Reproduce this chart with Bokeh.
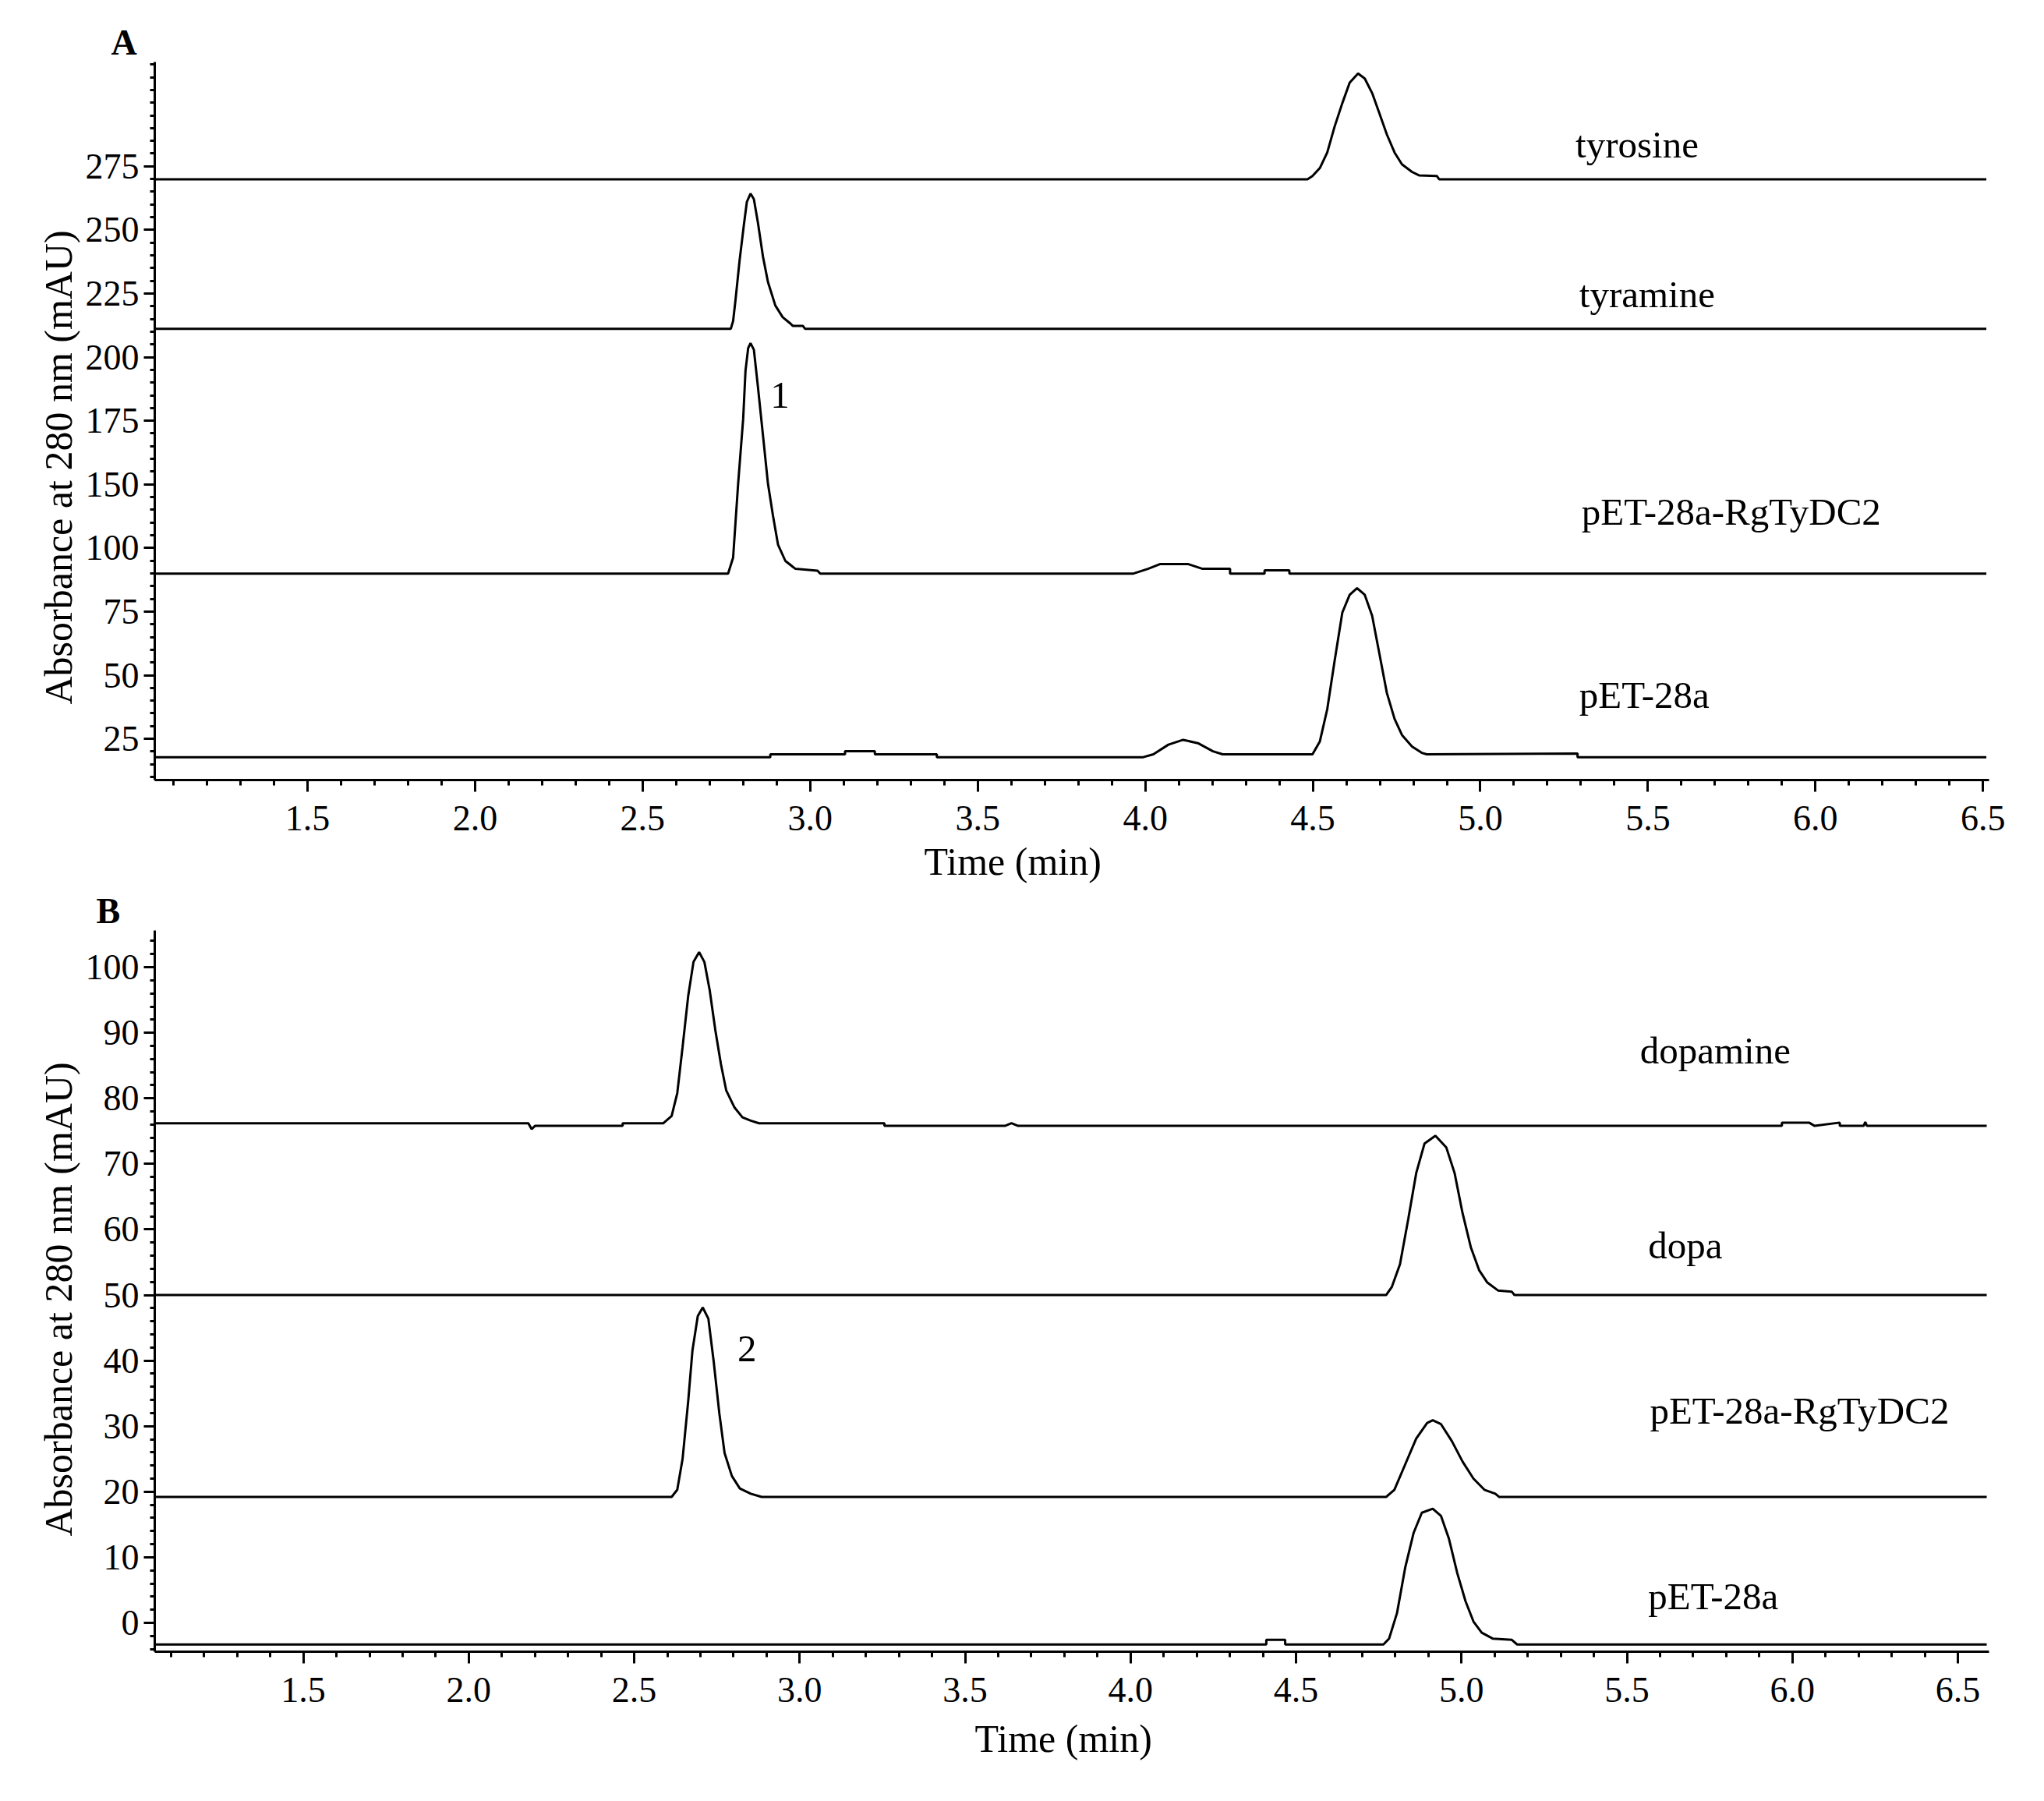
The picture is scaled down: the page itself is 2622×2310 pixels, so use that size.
from bokeh.plotting import figure
from bokeh.layouts import column
from bokeh.models import ColumnDataSource, FixedTicker, Title
from bokeh.core.properties import value
from bokeh.embed import file_html
from bokeh.resources import INLINE

FONT = "Liberation Serif"

# ---------------------------------------------------------------------------
# Panel A: tyrosine / tyramine chromatograms (time in min, offset mAU)
# ---------------------------------------------------------------------------
TYROSINE_T = [1.044, 4.484, 4.499, 4.521, 4.543, 4.565, 4.588, 4.610, 4.635, 4.655,
              4.677, 4.699, 4.721, 4.744, 4.766, 4.796, 4.818, 4.870, 4.877, 6.51]
TYROSINE_V = [244.9, 244.9, 246.2, 249.3, 255.4, 265.6, 274.8, 282.9, 286.5, 284.5,
              278.8, 270.7, 262.5, 255.4, 250.8, 247.8, 246.4, 246.2, 244.9, 244.9]

TYRAMINE_T = [1.044, 2.763, 2.770, 2.777, 2.789, 2.803, 2.811, 2.822, 2.832, 2.844,
              2.859, 2.874, 2.896, 2.918, 2.941, 2.948, 2.978, 2.985, 6.51]
TYRAMINE_V = [186.1, 186.1, 189.2, 197.3, 212.6, 227.9, 236.0, 239.3, 237.1, 227.9,
              214.6, 204.5, 195.3, 190.7, 188.2, 187.3, 187.3, 186.1, 186.1]

RGTYDC2_A_T = [1.044, 2.755, 2.770, 2.785, 2.800, 2.807, 2.815, 2.822, 2.832, 2.844,
               2.859, 2.874, 2.889, 2.904, 2.926, 2.956, 3.022, 3.030, 3.963, 4.008,
               4.045, 4.127, 4.171, 4.253, 4.253, 4.356, 4.356, 4.430, 4.430, 6.51]
RGTYDC2_A_V = [89.9, 89.9, 96.2, 125.3, 150.7, 169.7, 178.6, 180.5, 177.9, 163.4,
               144.4, 125.3, 112.7, 101.3, 94.9, 91.8, 91.1, 89.9, 89.9, 91.8,
               93.7, 93.7, 91.8, 91.8, 89.9, 89.9, 91.2, 91.2, 89.9, 89.9]

PET28A_A_T = [1.044, 2.881, 2.881, 3.104, 3.104, 3.193, 3.193, 3.378, 3.378, 3.994,
              4.024, 4.069, 4.113, 4.157, 4.202, 4.231, 4.499, 4.521, 4.543, 4.565,
              4.588, 4.610, 4.632, 4.655, 4.677, 4.699, 4.721, 4.744, 4.766, 4.796,
              4.825, 4.840, 5.29, 5.29, 6.51]
PET28A_A_V = [17.8, 17.8, 18.9, 18.9, 20.1, 20.1, 18.9, 18.9, 17.8, 17.8,
              18.9, 22.7, 24.6, 23.3, 20.1, 18.9, 18.9, 24.0, 36.6, 55.6,
              74.6, 81.6, 84.2, 81.6, 73.4, 58.2, 43.0, 32.8, 26.5, 22.0,
              19.5, 18.9, 19.2, 17.8, 17.8]

NAMES_A = ["tyrosine", "tyramine", "pET-28a-RgTyDC2", "pET-28a"]
NAME_T_A = [5.284, 5.295, 5.302, 5.295]
NAME_V_A = [258.6, 199.6, 114.3, 42.1]

Y_TICKS_A = [25, 50, 75, 100, 125, 150, 175, 200, 225, 250]
Y_TICK_LABELS_A = ["25", "50", "75", "100", "150", "175", "200", "225", "250", "275"]

# ---------------------------------------------------------------------------
# Panel B: dopa / dopamine chromatograms
# ---------------------------------------------------------------------------
DOPAMINE_T = [1.051, 2.18, 2.19, 2.20, 2.465, 2.465, 2.588, 2.613, 2.630, 2.646,
              2.663, 2.679, 2.696, 2.712, 2.728, 2.745, 2.762, 2.778, 2.803, 2.827,
              2.852, 2.877, 3.256, 3.256, 3.62, 3.64, 3.66, 5.968, 5.968, 6.05,
              6.067, 6.143, 6.143, 6.215, 6.22, 6.225, 6.587]
DOPAMINE_V = [76.2, 76.2, 75.3, 75.8, 75.8, 76.2, 76.2, 77.3, 80.8, 87.8,
              95.6, 100.8, 102.3, 100.8, 96.5, 90.4, 85.2, 81.2, 78.6, 77.1,
              76.6, 76.2, 76.2, 75.8, 75.8, 76.2, 75.8, 75.8, 76.3, 76.3,
              75.8, 76.3, 75.8, 75.8, 76.4, 75.8, 75.8]

DOPA_T = [1.051, 4.772, 4.789, 4.814, 4.839, 4.863, 4.888, 4.921, 4.954, 4.979,
          5.003, 5.028, 5.053, 5.078, 5.110, 5.152, 5.160, 6.587]
DOPA_V = [50.0, 50.0, 51.2, 54.7, 61.6, 68.6, 73.1, 74.3, 72.5, 68.6,
          62.5, 57.3, 53.8, 51.9, 50.7, 50.5, 50.0, 50.0]

RGTYDC2_B_T = [1.051, 2.613, 2.630, 2.646, 2.663, 2.676, 2.692, 2.707, 2.724, 2.740,
               2.757, 2.773, 2.795, 2.819, 2.852, 2.885, 4.772, 4.797, 4.830, 4.863,
               4.896, 4.913, 4.938, 4.971, 5.003, 5.036, 5.069, 5.102, 5.114, 6.587]
RGTYDC2_B_V = [19.2, 19.2, 20.3, 25.0, 33.8, 41.6, 46.8, 48.1, 46.4, 39.9,
               32.0, 25.9, 22.4, 20.5, 19.7, 19.2, 19.2, 20.3, 24.2, 28.1,
               30.5, 30.9, 30.3, 27.7, 24.6, 22.0, 20.3, 19.7, 19.2, 19.2]

PET28A_B_T = [1.051, 4.410, 4.410, 4.467, 4.467, 4.764, 4.781, 4.805, 4.830, 4.855,
              4.880, 4.913, 4.938, 4.962, 4.987, 5.012, 5.036, 5.061, 5.094, 5.152,
              5.168, 6.587]
PET28A_B_V = [-3.3, -3.3, -2.6, -2.6, -3.3, -3.3, -2.4, 1.5, 8.5, 13.7,
              16.8, 17.4, 16.3, 12.8, 7.6, 3.3, 0.2, -1.5, -2.4, -2.6,
              -3.3, -3.3]

NAMES_B = ["dopamine", "dopa", "pET-28a-RgTyDC2", "pET-28a"]
NAME_T_B = [5.539, 5.564, 5.569, 5.564]
NAME_V_B = [87.3, 57.5, 32.4, 4.0]

Y_TICKS_B = [0, 10, 20, 30, 40, 50, 60, 70, 80, 90, 100]
Y_TICK_LABELS_B = ["0", "10", "20", "30", "40", "50", "60", "70", "80", "90", "100"]

X_TICKS = [1.5, 2.0, 2.5, 3.0, 3.5, 4.0, 4.5, 5.0, 5.5, 6.0, 6.5]
X_TICK_LABELS = ["1.5", "2.0", "2.5", "3.0", "3.5", "4.0", "4.5", "5.0", "5.5", "6.0", "6.5"]

X_TITLE = "Time (min)"
Y_TITLE = "Absorbance at 280 nm (mAU)"


def style_axes(p, y_ticks, y_labels, y_minor, x_minor):
    p.grid.visible = False
    p.outline_line_color = None

    p.xaxis.ticker = FixedTicker(ticks=X_TICKS, minor_ticks=x_minor)
    p.xaxis.major_label_overrides = dict(zip(X_TICKS, X_TICK_LABELS))
    p.yaxis.ticker = FixedTicker(ticks=y_ticks, minor_ticks=y_minor)
    p.yaxis.major_label_overrides = dict(zip(y_ticks, y_labels))

    for ax in (p.xaxis, p.yaxis):
        ax.axis_line_width = 3
        ax.axis_line_color = "black"
        ax.major_tick_line_width = 3
        ax.minor_tick_line_width = 3
        ax.major_tick_line_color = "black"
        ax.minor_tick_line_color = "black"
        ax.major_tick_in = 0
        ax.minor_tick_in = 0
        ax.major_label_text_font = FONT
        ax.major_label_text_font_size = "46px"
        ax.major_label_text_color = "black"
    p.xaxis.major_tick_out = 15
    p.xaxis.minor_tick_out = 7
    p.xaxis.major_label_standoff = 18
    p.yaxis.major_tick_out = 14
    p.yaxis.minor_tick_out = 6
    p.yaxis.major_label_standoff = 6


def add_names(p, names, ts, vs):
    src = ColumnDataSource(dict(x=ts, y=vs, text=names))
    p.text(x="x", y="y", text="text", source=src, text_font=value(FONT),
           text_font_size="49px", text_color="black",
           text_align="left", text_baseline="alphabetic")


def add_peak_no(p, t, v, txt):
    p.text(x=[t], y=[v], text=[txt], text_font=value(FONT), text_font_size="49px",
           text_color="black", text_align="left", text_baseline="alphabetic")


def set_titles(p, letter, letter_offset, x_offset, x_standoff, y_offset):
    p.title.text = letter
    p.title.align = "left"
    p.title.offset = letter_offset
    p.title.standoff = 0
    p.title.text_font = FONT
    p.title.text_font_size = "46px"
    p.title.text_font_style = "bold"
    p.title.text_color = "black"
    p.add_layout(Title(text=X_TITLE, align="left", offset=x_offset, standoff=x_standoff,
                       text_font=FONT, text_font_size="50px", text_font_style="normal",
                       text_color="black"), "below")
    p.add_layout(Title(text=Y_TITLE, align="left", offset=y_offset, standoff=8,
                       text_font=FONT, text_font_size="50px", text_font_style="normal",
                       text_color="black"), "left")


# ----- Panel A -----
pa = figure(width=2600, height=1140, x_range=(1.044, 6.518), y_range=(8.8, 291.0),
            output_backend="svg", toolbar_location=None,
            min_border_left=198, min_border_right=48,
            min_border_top=79, min_border_bottom=138)
style_axes(pa, Y_TICKS_A, Y_TICK_LABELS_A,
           [10 + 5 * i for i in range(57)],
           [round(1.1 + 0.1 * i, 2) for i in range(55)])

for ts, vs in [(TYROSINE_T, TYROSINE_V), (TYRAMINE_T, TYRAMINE_V),
               (RGTYDC2_A_T, RGTYDC2_A_V), (PET28A_A_T, PET28A_A_V)]:
    pa.line(ts, vs, line_color="black", line_width=3)

add_names(pa, NAMES_A, NAME_T_A, NAME_V_A)
add_peak_no(pa, 2.881, 160.1, "1")
set_titles(pa, "A", -56, 987, 15, 97)

# ----- Panel B -----
pb = figure(width=2600, height=1150, x_range=(1.051, 6.594), y_range=(-4.4, 105.6),
            output_backend="svg", toolbar_location=None,
            min_border_left=193, min_border_right=49,
            min_border_top=52, min_border_bottom=172)
style_axes(pb, Y_TICKS_B, Y_TICK_LABELS_B,
           [-4 + 2 * i for i in range(55)],
           [round(1.1 + 0.1 * i, 2) for i in range(55)])

for ts, vs in [(DOPAMINE_T, DOPAMINE_V), (DOPA_T, DOPA_V),
               (RGTYDC2_B_T, RGTYDC2_B_V), (PET28A_B_T, PET28A_B_V)]:
    pb.line(ts, vs, line_color="black", line_width=3)

add_names(pb, NAMES_B, NAME_T_B, NAME_V_B)
add_peak_no(pb, 2.812, 41.8, "2")
set_titles(pb, "B", -75, 1052, 28, 148)

layout = column(pa, pb)
open("out.html", "w").write(file_html(layout, INLINE, "HPLC chromatograms"))
